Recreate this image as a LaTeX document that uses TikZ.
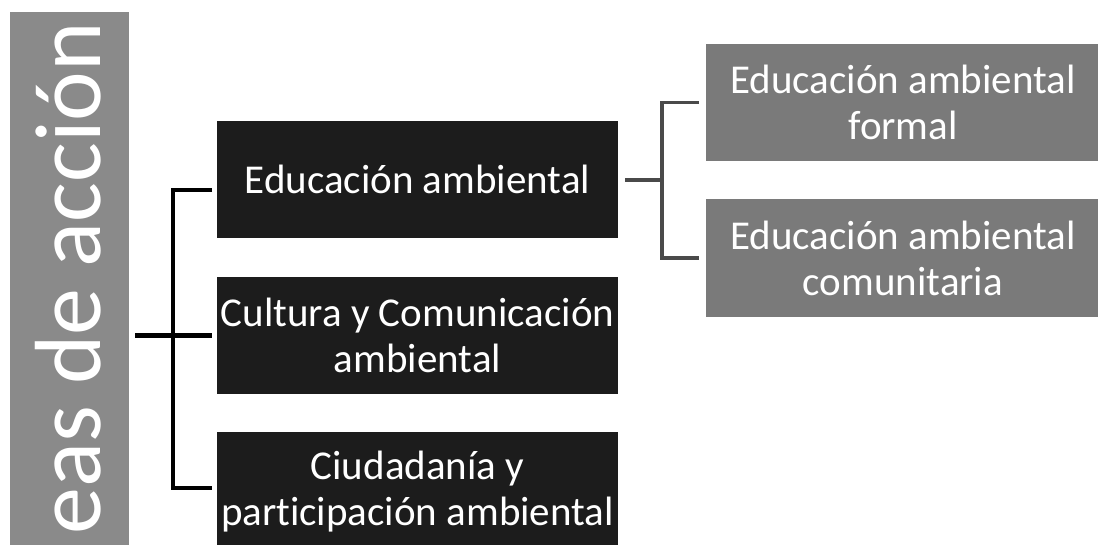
\documentclass[tikz,border=0pt]{standalone}
\usepackage{fontspec}
\setmainfont[Ligatures={NoCommon}]{Carlito}
\usetikzlibrary{calc}
\definecolor{barcol}{HTML}{8A8A8A}
\definecolor{midcol}{HTML}{1C1C1C}
\definecolor{rcol}{HTML}{7A7A7A}
\definecolor{rline}{HTML}{4A4A4A}
\tikzset{
  midbox/.style={fill=midcol, text=white, inner sep=0pt, outer sep=0pt, minimum width=401pt, align=center, font=\fontsize{41}{46}\selectfont},
  rbox/.style={fill=rcol, text=white, inner sep=0pt, outer sep=0pt, minimum width=394pt, align=center, font=\fontsize{41}{46}\selectfont},
  lconn/.style={line width=4.5pt, draw=black},
  rconn/.style={line width=3.5pt, draw=rline}
}
\begin{document}
\begin{tikzpicture}[x=1pt,y=1pt]
\useasboundingbox (0,0) rectangle (1098,545);
\clip (0,0) rectangle (1098,545);
\node[fill=barcol, inner sep=0pt, outer sep=0pt, minimum width=119pt, minimum height=548pt] (bar) at (69.5,259) {};
\node[rotate=90, anchor=base east, inner sep=0pt, text=white, font=\fontsize{94}{94}\selectfont] (bartext) at (100,523) {eas de acción};
\node[midbox, minimum height=117pt] (m1) at (417.5,365.5) {Educación ambiental};
\node[midbox, minimum height=117pt] (m2) at (417.5,209.5) {Cultura y Comunicación\\ambiental};
\node[midbox, minimum height=120pt] (m3) at (417.5,53) {Ciudadanía y\\participación ambiental};
\node[rbox, minimum height=117pt] (r1) at (903,442.5) {Educación ambiental\\formal};
\node[rbox, minimum height=118pt] (r2) at (903,287) {Educación ambiental\\comunitaria};
% left connectors
\draw[lconn] ([xshift=6pt]bar.east |- m2.west) -- ([xshift=-5pt]m2.west);
\draw[lconn] ([xshift=-5pt,yshift=-10.5pt]m1.west) -- ++(-39,0) |- ([xshift=-5pt,yshift=4pt]m3.west);
% right connectors
\draw[rconn] ([xshift=7pt,yshift=-0.5pt]m1.east) -- ++(37,0);
\draw[rconn] ([xshift=-7pt]r1.west) -- ++(-37,0) |- ([xshift=-7pt]r2.west);
\end{tikzpicture}
\end{document}
